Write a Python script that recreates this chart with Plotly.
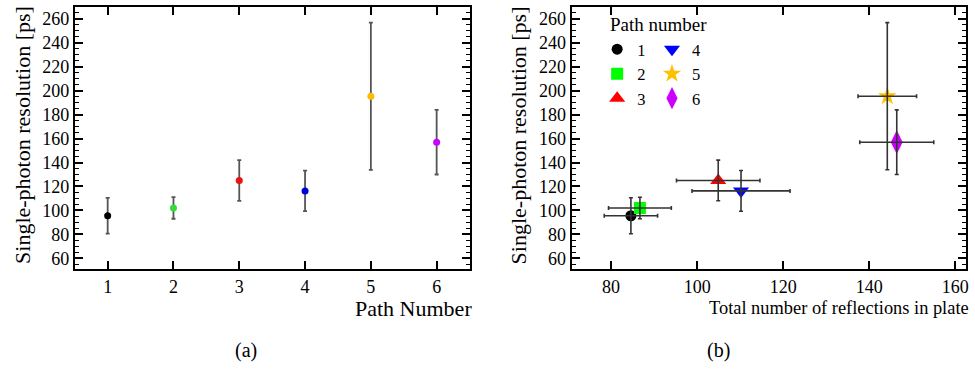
import plotly.graph_objects as go

# ---- data ----
paths = [1, 2, 3, 4, 5, 6]
path_labels = ["1", "2", "3", "4", "5", "6"]
resolution = [95.5, 102, 125, 116.3, 195.4, 157]
res_err = [15, 9, 17, 17, 61.5, 27]
reflections = [84.6, 86.7, 104.9, 110.2, 144.2, 146.4]
refl_err = [6.2, 7.3, 9.7, 11.4, 6.8, 8.6]

colors_a = ["#000000", "#33dd33", "#ee1111", "#0000dd", "#ffbb00", "#cc00ff"]
colors_b = ["#000000", "#00ff00", "#ff0000", "#0000ff", "#ffc000", "#cc00ff"]
symbols_b = ["circle", "square", "triangle-up", "triangle-down", "star", "diamond-tall"]
sizes_b = [11, 12, 14, 14, 14, 17]
legend_of = ["legend", "legend", "legend", "legend2", "legend2", "legend2"]

FONT = "Liberation Serif"
W, H = 975, 372

fig = go.Figure()

# ---- panel (a) ----
for i in range(len(paths)):
    fig.add_trace(go.Scatter(
        x=[paths[i]], y=[resolution[i]], mode="markers",
        marker=dict(color=colors_a[i], size=7),
        error_y=dict(type="data", array=[res_err[i]], color="#555555",
                     thickness=1.8, width=2),
        xaxis="x", yaxis="y", showlegend=False))

# ---- panel (b) ----
for i in range(len(paths)):
    fig.add_trace(go.Scatter(
        x=[reflections[i]], y=[resolution[i]], mode="markers",
        marker=dict(color=colors_b[i], size=sizes_b[i], symbol=symbols_b[i]),
        name=path_labels[i], legend=legend_of[i],
        xaxis="x2", yaxis="y2", showlegend=True))
# error bars drawn over the markers
for i in range(len(paths)):
    fig.add_trace(go.Scatter(
        x=[reflections[i]], y=[resolution[i]], mode="markers",
        marker=dict(color="rgba(0,0,0,0)", size=1),
        error_x=dict(type="data", array=[refl_err[i]], color="#333333",
                     thickness=1.6, width=2),
        error_y=dict(type="data", array=[res_err[i]], color="#333333",
                     thickness=1.6, width=2),
        xaxis="x2", yaxis="y2", showlegend=False, hoverinfo="skip"))

ydom = [(H - 269) / H, (H - 7) / H]
xdom_a = [75 / W, 471 / W]
xdom_b = [573.3 / W, 969 / W]

tickfont = dict(family=FONT, size=18, color="black")
common_y = dict(
    range=[51, 270], tickmode="array", tickvals=list(range(60, 261, 20)),
    ticks="inside", ticklen=8, tickwidth=1.6, tickcolor="black",
    minor=dict(dtick=5, ticks="inside", ticklen=4, tickwidth=1.4, tickcolor="black"),
    showline=True, linewidth=2, linecolor="black", mirror="allticks",
    showgrid=False, zeroline=False, tickfont=tickfont, domain=ydom,
)
common_x = dict(
    ticks="inside", ticklen=8, tickwidth=1.6, tickcolor="black",
    showline=True, linewidth=2, linecolor="black", mirror="allticks",
    showgrid=False, zeroline=False, tickfont=tickfont,
)

leg_common = dict(yanchor="top", xanchor="left", orientation="v",
                  bgcolor="rgba(0,0,0,0)",
                  font=dict(family=FONT, size=16.5, color="black"),
                  itemsizing="trace", tracegroupgap=0)

fig.update_layout(
    width=W, height=H,
    margin=dict(l=0, r=0, t=0, b=0),
    paper_bgcolor="white", plot_bgcolor="white",
    font=dict(family=FONT, color="black"),
    xaxis=dict(common_x, domain=xdom_a, range=[0.5, 6.5],
               tickmode="array", tickvals=paths, ticktext=path_labels, anchor="y"),
    yaxis=dict(common_y, anchor="x"),
    xaxis2=dict(common_x, domain=xdom_b, range=[70.8, 162.5],
                tickmode="array", tickvals=[80, 100, 120, 140, 160], anchor="y2"),
    yaxis2=dict(common_y, anchor="x2"),
    legend=dict(leg_common, x=599 / W, y=1 - 32 / H),
    legend2=dict(leg_common, x=654 / W, y=1 - 32 / H),
    showlegend=True,
)

ann = []
# y-axis titles
for xc in (22, 520):
    ann.append(dict(text="Single-photon resolution [ps]", textangle=-90,
                    xref="paper", x=xc / W, xanchor="center",
                    yref="paper", y=1 - 4 / H, yanchor="top",
                    showarrow=False, font=dict(family=FONT, size=22)))
# x-axis titles (right-aligned)
ann.append(dict(text="Path Number", xref="x domain", yref="paper",
                x=1, xanchor="right", xshift=4, y=1 - 308 / H, yanchor="middle",
                showarrow=False, font=dict(family=FONT, size=22)))
ann.append(dict(text="Total number of reflections in plate", xref="x2 domain", yref="paper",
                x=1, xanchor="right", xshift=5, y=1 - 308 / H, yanchor="middle",
                showarrow=False, font=dict(family=FONT, size=18.4)))
# legend title
ann.append(dict(text="Path number", xref="paper", yref="paper",
                x=610 / W, xanchor="left", y=1 - 25 / H, yanchor="middle",
                showarrow=False, font=dict(family=FONT, size=19)))
# captions
ann.append(dict(text="(a)", xref="paper", yref="paper", x=247 / W, y=1 - 350 / H,
                xanchor="center", yanchor="middle", showarrow=False,
                font=dict(family=FONT, size=20)))
ann.append(dict(text="(b)", xref="paper", yref="paper", x=721 / W, y=1 - 350 / H,
                xanchor="center", yanchor="middle", showarrow=False,
                font=dict(family=FONT, size=20)))
fig.update_layout(annotations=ann)

fig.write_html("out.html")
